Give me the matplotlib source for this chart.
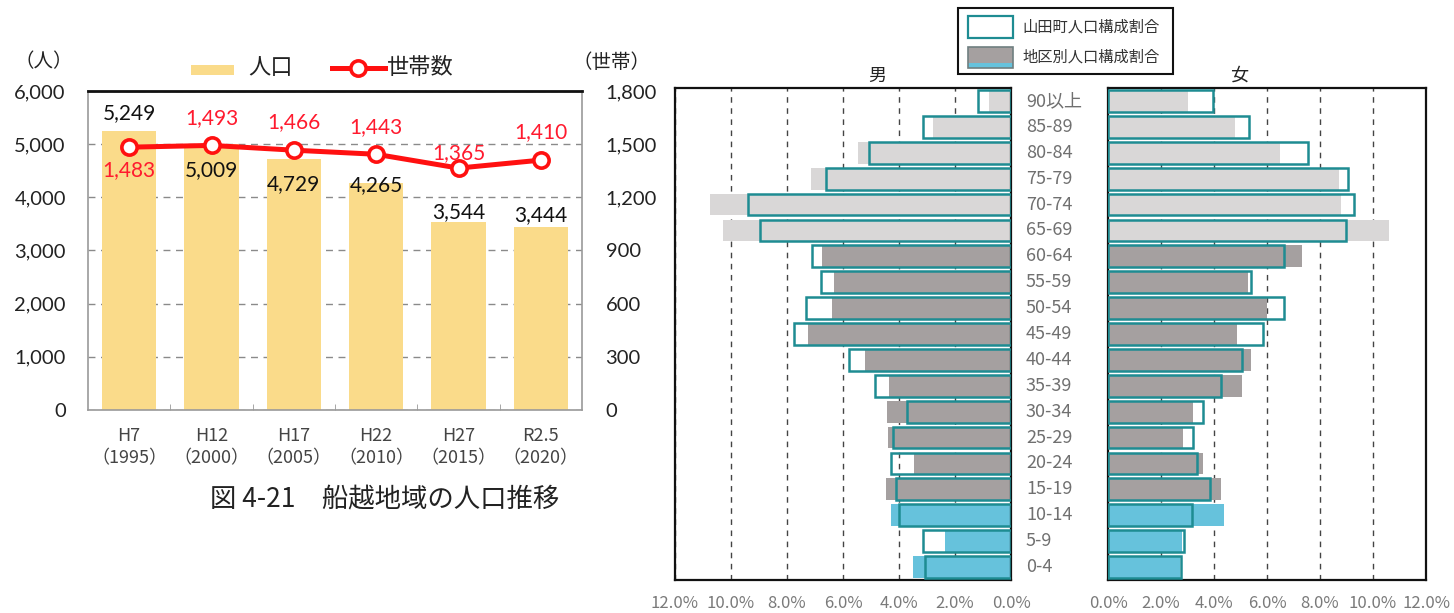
import matplotlib
matplotlib.use("Agg")
import matplotlib.pyplot as plt
from matplotlib.patches import Rectangle
from matplotlib.lines import Line2D
from matplotlib.transforms import blended_transform_factory
import numpy as np

plt.rcParams['font.family'] = ['Noto Sans CJK JP', 'DejaVu Sans']

# ---- population trend (left) ----
periods = ['H7\n（1995）', 'H12\n（2000）', 'H17\n（2005）',
           'H22\n（2010）', 'H27\n（2015）', 'R2.5\n（2020）']
population = [5249, 5009, 4729, 4265, 3544, 3444]
households = [1483, 1493, 1466, 1443, 1365, 1410]
# label offsets in pixels (positive = downward)
pop_label_dy = [-18, 26, 26, 2, -9, -12]
hh_label_dy = [23, -27, -28, -27, -15, -28]

# ---- population pyramid (right) ----
age_groups = ['90以上', '85-89', '80-84', '75-79', '70-74', '65-69', '60-64',
              '55-59', '50-54', '45-49', '40-44', '35-39', '30-34', '25-29',
              '20-24', '15-19', '10-14', '5-9', '0-4']
male_town = [1.18, 3.14, 5.07, 6.6, 9.39, 8.96, 7.1, 6.79, 7.32, 7.75,
             5.79, 4.86, 3.71, 4.2, 4.29, 4.1, 4.0, 3.14, 3.07]
male_district = [0.8, 2.8, 5.46, 7.14, 10.75, 10.3, 6.75, 6.32, 6.39, 7.25,
                 5.21, 4.36, 4.43, 4.4, 3.46, 4.45, 4.3, 2.36, 3.5]
female_town = [3.97, 5.33, 7.54, 9.05, 9.28, 8.98, 6.64, 5.4, 6.64, 5.85,
               5.06, 4.26, 3.58, 3.2, 3.35, 3.85, 3.17, 2.87, 2.75]
female_district = [3.0, 4.8, 6.5, 8.7, 8.8, 10.6, 7.32, 5.28, 6.0, 4.87,
                   5.4, 5.06, 3.2, 2.83, 3.58, 4.26, 4.38, 2.8, 2.7]

W, H = 1454, 613
fig = plt.figure(figsize=(W / 100, H / 100), dpi=100)


def px(x, y):
    return x / W, 1 - y / H


def box(x0, y0, x1, y1):
    return [x0 / W, 1 - y1 / H, (x1 - x0) / W, (y1 - y0) / H]


NUM_FONT = ['Lato', 'DejaVu Sans']

# ================= left chart =================
ax = fig.add_axes(box(88, 91, 582, 410))
x = np.arange(len(periods))
ax.bar(x, population, width=0.66, color='#FADB8A', zorder=2)
ax.set_xlim(-0.5, len(periods) - 0.5)
ax.set_ylim(0, 6000)
ax.set_yticks(np.arange(0, 6001, 1000))
ax.set_yticklabels([f'{v:,}' for v in range(0, 6001, 1000)],
                   family=NUM_FONT, fontsize=14.5, color='#222222')
ax.set_axisbelow(True)
ax.yaxis.grid(True, linestyle=(0, (5, 4)), color='#8a8a8a', lw=1)
ax.set_xticks(x)
ax.set_xticklabels(periods, fontsize=13, color='#444444', linespacing=1.3)
ax.set_xticks(np.arange(0.5, len(periods) - 1, 1), minor=True)
ax.tick_params(axis='x', which='major', length=0, pad=12)
ax.tick_params(axis='x', which='minor', direction='in', length=4, color='#999999')
ax.tick_params(axis='y', length=0, pad=16)
for s in ['left', 'right', 'bottom']:
    ax.spines[s].set_color('#9a9a9a')
    ax.spines[s].set_linewidth(1.2)
ax.spines['top'].set_color('#111111')
ax.spines['top'].set_linewidth(2)

ax2 = ax.twinx()
ax2.set_ylim(0, 1800)
ax2.set_yticks(np.arange(0, 1801, 300))
ax2.set_yticklabels([f'{v:,}' for v in range(0, 1801, 300)],
                    family=NUM_FONT, fontsize=14.5, color='#222222')
ax2.tick_params(axis='y', length=0, pad=17)
for s in ax2.spines.values():
    s.set_visible(False)
ax2.plot(x, households, color='#FF1010', lw=3.6, marker='o', ms=11,
         mfc='white', mec='#FF1010', mew=2.6, zorder=4)

for i, v in enumerate(population):
    ax.annotate(f'{v:,}', xy=(i, v), xytext=(0, -pop_label_dy[i]),
                textcoords='offset pixels', ha='center', va='center',
                family=NUM_FONT, fontsize=15, color='#111111', zorder=5)
for i, v in enumerate(households):
    ax2.annotate(f'{v:,}', xy=(i, v), xytext=(0, -hh_label_dy[i]),
                 textcoords='offset pixels', ha='center', va='center',
                 family=NUM_FONT, fontsize=15, color='#FF1A2E', zorder=5)

# legend and units
fig.add_artist(Rectangle(px(191, 75), 43 / W, 10 / H, transform=fig.transFigure,
                         facecolor='#FADB8A', edgecolor='none'))
fig.text(*px(248, 68), '人口', fontsize=16, va='center', ha='left', color='#222222')
fig.add_artist(Line2D([332 / W, 385 / W], [1 - 68 / H] * 2, transform=fig.transFigure,
                      color='#FF1010', lw=3.6))
fig.add_artist(Line2D([358 / W], [1 - 68 / H], transform=fig.transFigure,
                      marker='o', ms=11, mfc='white', mec='#FF1010', mew=2.6))
fig.text(*px(387, 68), '世帯数', fontsize=16, va='center', ha='left', color='#222222')
fig.text(*px(14, 62), '（人）', fontsize=14, va='center', ha='left', color='#222222')
fig.text(*px(573, 62), '（世帯）', fontsize=14, va='center', ha='left', color='#222222')

fig.text(*px(385, 500), '図 4-21　船越地域の人口推移', fontsize=19, va='center',
         ha='center', color='#222222')

# ================= pyramid =================
def age_color(label):
    if label in ('0-4', '5-9', '10-14'):
        return '#66C2DC'
    if label in ('65-69', '70-74', '75-79', '80-84', '85-89', '90以上'):
        return '#D9D7D7'
    return '#A5A0A0'


colors = [age_color(a) for a in age_groups]
yy = np.arange(len(age_groups))
TEAL = '#1E8C92'
ticks = np.arange(0, 13, 2)

axm = fig.add_axes(box(675, 88, 1011, 580))
axf = fig.add_axes(box(1108, 88, 1426, 580))
for a, town, dist in ((axm, male_town, male_district),
                      (axf, female_town, female_district)):
    a.barh(yy, dist, height=0.84, color=colors, zorder=2)
    a.barh(yy, town, height=0.84, facecolor='none', edgecolor=TEAL, lw=1.8, zorder=3)
    a.set_ylim(len(age_groups) - 0.5, -0.5)
    a.set_yticks([])
    a.set_xticks(ticks)
    a.set_xticklabels([f'{t:.1f}%' for t in ticks], fontsize=12, color='#7a7a7a')
    a.tick_params(axis='x', length=0, pad=11)
    a.set_axisbelow(True)
    a.xaxis.grid(True, linestyle=(0, (4, 4)), color='#444444', lw=1)
    for s in a.spines.values():
        s.set_color('#111111')
        s.set_linewidth(1.6)
axm.set_xlim(12, 0)
axf.set_xlim(0, 12)

tr = blended_transform_factory(fig.transFigure, axm.transData)
for i, lab in enumerate(age_groups):
    axm.text(1026 / W, i, lab, transform=tr, ha='left', va='center',
             fontsize=13, color='#707070', clip_on=False)

fig.text(*px(877, 76), '男', fontsize=13, ha='center', va='center', color='#222222')
fig.text(*px(1239, 76), '女', fontsize=13, ha='center', va='center', color='#222222')

# legend box
fig.add_artist(Rectangle(px(958, 74), 215 / W, 66 / H, transform=fig.transFigure,
                         facecolor='white', edgecolor='#111111', lw=1.5))
fig.add_artist(Rectangle(px(968, 38), 45 / W, 22 / H, transform=fig.transFigure,
                         facecolor='white', edgecolor=TEAL, lw=1.6))
fig.add_artist(Rectangle(px(968, 68), 45 / W, 21 / H, transform=fig.transFigure,
                         facecolor='#A5A0A0', edgecolor='none'))
fig.add_artist(Rectangle(px(968, 68), 45 / W, 5 / H, transform=fig.transFigure,
                         facecolor='#66C2DC', edgecolor='none'))
fig.add_artist(Rectangle(px(968, 68), 45 / W, 21 / H, transform=fig.transFigure,
                         facecolor='none', edgecolor='#6f7f80', lw=1.2))
fig.text(*px(1022, 27), '山田町人口構成割合', fontsize=11, ha='left', va='center', color='#333333')
fig.text(*px(1022, 57), '地区別人口構成割合', fontsize=11, ha='left', va='center', color='#333333')

fig.savefig('out.png', dpi=100, facecolor='white')
